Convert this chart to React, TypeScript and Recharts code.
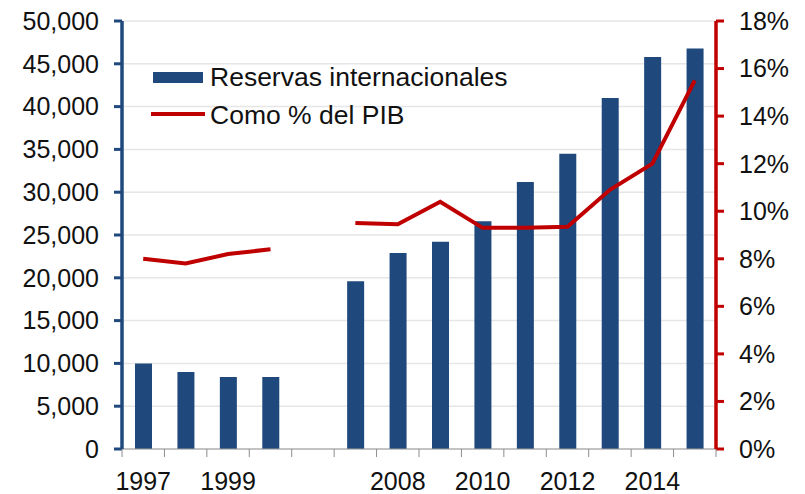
import React from 'react';
import {
  ComposedChart,
  Bar,
  Line,
  XAxis,
  YAxis,
  CartesianGrid,
  Legend,
} from 'recharts';

// ---- data ----
const years = ['1997', '1998', '1999', '2000', '', '2007', '2008', '2009', '2010', '2011', '2012', '2013', '2014', '2015'];
const reservas = [10000, 9000, 8400, 8400, null, 19600, 22900, 24200, 26600, 31200, 34500, 41000, 45800, 46800];
const pctPib = [8.0, 7.8, 8.2, 8.4, null, 9.5, 9.45, 10.4, 9.3, 9.3, 9.35, 10.9, 12.0, 15.5];
const leftTicks = [0, 5000, 10000, 15000, 20000, 25000, 30000, 35000, 40000, 45000, 50000];
const rightTicks = [0, 2, 4, 6, 8, 10, 12, 14, 16, 18];
const seriesNames = ['Reservas internacionales', 'Como % del PIB'];

const data = years.map((y, i) => ({ year: y, reservas: reservas[i], pib: pctPib[i] }));

// ---- layout ----
const W = 805;
const H = 494;
const LEFT_W = 122;
const RIGHT_W = 89;
const TOP = 21;
const XAXIS_H = 45;
const FONT = '"Liberation Sans", Arial, sans-serif';
const BLUE = '#1F497D';
const RED = '#C00000';
const X_TICK = 8;
const X_MARGIN = 15;

function XTick(props: any) {
  const { x, y, payload } = props;
  const index = props.index ?? payload?.index ?? 0;
  const axisY = y - X_TICK - X_MARGIN;
  const half = (W - LEFT_W - RIGHT_W) / (2 * years.length);
  return (
    <g>
      <line x1={x - half} x2={x - half} y1={axisY} y2={axisY + X_TICK} stroke="#8c8c8c" strokeWidth={1} />
      {index === years.length - 1 && (
        <line x1={x + half} x2={x + half} y1={axisY} y2={axisY + X_TICK} stroke="#8c8c8c" strokeWidth={1} />
      )}
      {index % 2 === 0 && (
        <text x={x} y={y} dy="0.71em" textAnchor="middle" fontSize={25} fontFamily={FONT} fill="#111">
          {payload.value}
        </text>
      )}
    </g>
  );
}

function LegendContent() {
  return (
    <svg width={380} height={72} style={{ display: 'block' }}>
      <rect x={3} y={12} width={50} height={11} fill={BLUE} />
      <text x={60} y={26} fontSize={26.5} fontFamily={FONT} fill="#111">
        {seriesNames[0]}
      </text>
      <line x1={1} x2={55} y1={54} y2={54} stroke={RED} strokeWidth={4} />
      <text x={60} y={63.5} fontSize={26.5} fontFamily={FONT} fill="#111">
        {seriesNames[1]}
      </text>
    </svg>
  );
}

export default function App() {
  return (
    <div style={{ position: 'absolute', left: 0, top: 0, width: W, height: H, background: '#fff' }}>
      <ComposedChart
        width={W}
        height={H}
        data={data}
        margin={{ top: TOP, right: 0, bottom: 0, left: 0 }}
        barCategoryGap="30%"
      >
        <CartesianGrid yAxisId="left" vertical={false} stroke="#e6e6e6" strokeWidth={1.5} />
        <XAxis
          dataKey="year"
          height={XAXIS_H}
          interval={0}
          tickSize={X_TICK}
          tickMargin={X_MARGIN}
          tickLine={false}
          axisLine={{ stroke: '#9a9a9a', strokeWidth: 1 }}
          tick={<XTick />}
        />
        <YAxis
          yAxisId="left"
          orientation="left"
          width={LEFT_W}
          domain={[0, 50000]}
          ticks={leftTicks}
          interval={0}
          tickFormatter={(v: number) => v.toLocaleString('en-US')}
          tickSize={8}
          tickMargin={15}
          axisLine={{ stroke: BLUE, strokeWidth: 3.5 }}
          tickLine={{ stroke: BLUE, strokeWidth: 3 }}
          tick={{ fontSize: 25, fontFamily: FONT, fill: '#111' }}
        />
        <YAxis
          yAxisId="right"
          orientation="right"
          width={RIGHT_W}
          domain={[0, 18]}
          ticks={rightTicks}
          interval={0}
          tickFormatter={(v: number) => `${v}%`}
          tickSize={8}
          tickMargin={15}
          axisLine={{ stroke: RED, strokeWidth: 3.5 }}
          tickLine={{ stroke: RED, strokeWidth: 3 }}
          tick={{ fontSize: 25, fontFamily: FONT, fill: '#111' }}
        />
        <Legend
          layout="vertical"
          align="center"
          verticalAlign="middle"
          content={<LegendContent />}
          wrapperStyle={{ left: 150, top: 60, width: 380, height: 72 }}
        />
        <Bar
          yAxisId="left"
          dataKey="reservas"
          name={seriesNames[0]}
          fill={BLUE}
          barSize={17}
          isAnimationActive={false}
        />
        <Line
          yAxisId="right"
          dataKey="pib"
          name={seriesNames[1]}
          type="linear"
          stroke={RED}
          strokeWidth={4}
          dot={false}
          activeDot={false}
          connectNulls={false}
          isAnimationActive={false}
        />
      </ComposedChart>
    </div>
  );
}
